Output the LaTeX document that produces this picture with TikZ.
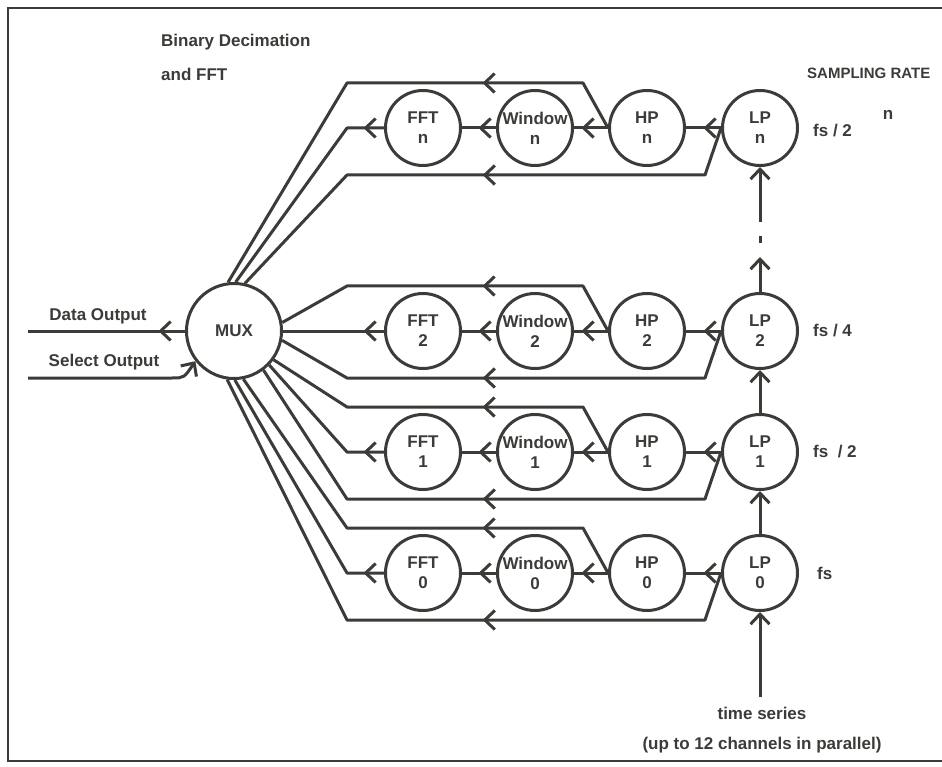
\documentclass[tikz,border=0pt]{standalone}
\usepackage{fontspec}
\newfontfamily\hv{Liberation Sans}
\usetikzlibrary{arrows.meta,decorations.markings}
\definecolor{ink}{RGB}{58,60,56}
\begin{document}
\begin{tikzpicture}[x=1pt,y=-1pt,color=ink,
  >={Straight Barb[length=10pt,width=19pt]},
  wire/.style={draw=ink,line width=3pt,line join=round},
  blk/.style={circle,draw=ink,line width=3pt,minimum size=75pt,inner sep=0pt,
    align=center,text=ink,font=\hv\bfseries\fontsize{17}{20}\selectfont},
  txt/.style={text=ink,inner sep=0pt,font=\hv\bfseries\fontsize{17}{20}\selectfont},
  arrat/.style={postaction={decorate},decoration={markings,mark=at position #1 with {\arrow[line width=3pt]{>}}}}]
\useasboundingbox (0,0) rectangle (942,767);
% frame
\draw[ink,line width=2pt] (942,8) -- (8,8) -- (8,761) -- (942,761);
% MUX
\node[blk,minimum size=95pt] (mux) at (234,331) {MUX};
% rows
\foreach \rw/\yy/\ta/\ma/\ba in {n/128/97/88/77, 2/331/10/0/-11, 1/452/-36/-44/-53, 0/573/-79/-89/-98}{
  \node[blk] (lp\rw) at (760,\yy) {LP\\\rw};
  \node[blk] (hp\rw) at (647,\yy) {HP\\\rw};
  \node[blk] (win\rw) at (535,\yy) {Window\\\rw};
  \node[blk] (fft\rw) at (423,\yy) {FFT\\\rw};
  \coordinate (tA\rw) at (583,\yy-45);
  \coordinate (tB\rw) at (347,\yy-45);
  \coordinate (mB\rw) at (347,\yy);
  \coordinate (bA\rw) at (705,\yy+47);
  \coordinate (bB\rw) at (347,\yy+47);
  \draw[wire,arrat=17.5pt] (lp\rw) -- (hp\rw);
  \draw[wire,arrat=26.5pt] (hp\rw) -- (win\rw);
  \draw[wire,arrat=17.5pt] (win\rw) -- (fft\rw);
  \draw[wire,arrat=20.5pt] (fft\rw.west) -- (mB\rw) -- (mux.\ma);
  \draw[wire,arrat=152pt] (hp\rw.west) -- (tA\rw) -- (tB\rw) -- (mux.\ta);
  \draw[wire,arrat=272pt] (lp\rw.west) -- (bA\rw) -- (bB\rw) -- (mux.\ba);
}
% LP chain
\coordinate (ts) at (760,697);
\coordinate (up1) at (760,257);
\coordinate (d1) at (760,236);
\coordinate (d2) at (760,243);
\coordinate (up2) at (760,222);
\draw[wire,->] (ts) -- (lp0);
\draw[wire,->] (lp0) -- (lp1);
\draw[wire,->] (lp1) -- (lp2);
\draw[wire,->] (lp2) -- (up1);
\draw[wire] (d1) -- (d2);
\draw[wire,->] (up2) -- (lpn);
% outputs
\coordinate (dout) at (28,331);
\coordinate (selin) at (28,378);
\coordinate (selbend) at (172,378);
\draw[wire,arrat=26.5pt] (mux.west) -- (dout);
\draw[wire,->] (selin) -- (selbend) .. controls (184,378) .. (mux.218);
% labels
\node[txt,anchor=west] (title1) at (161,42) {Binary Decimation};
\node[txt,anchor=west] (title2) at (161,74) {and FFT};
\node[txt,anchor=west,font=\hv\bfseries\fontsize{15}{18}\selectfont] (samp) at (807,73) {SAMPLING RATE};
\node[txt] (dlab) at (98,316) {Data Output};
\node[txt] (slab) at (104,362) {Select Output};
\node[txt,anchor=west] (ratn) at (813,131) {fs / 2};
\node[txt] (ratnexp) at (888,115) {n};
\node[txt,anchor=west] (rat2) at (813,331) {fs / 4};
\node[txt,anchor=west] (rat1) at (813,452) {fs\ \ / 2};
\node[txt,anchor=west] (rat0) at (817,573) {fs};
\node[txt] (tslab) at (762,713) {time series};
\node[txt] (tslab2) at (762,745) {(up to 12 channels in parallel)};
\end{tikzpicture}
\end{document}
